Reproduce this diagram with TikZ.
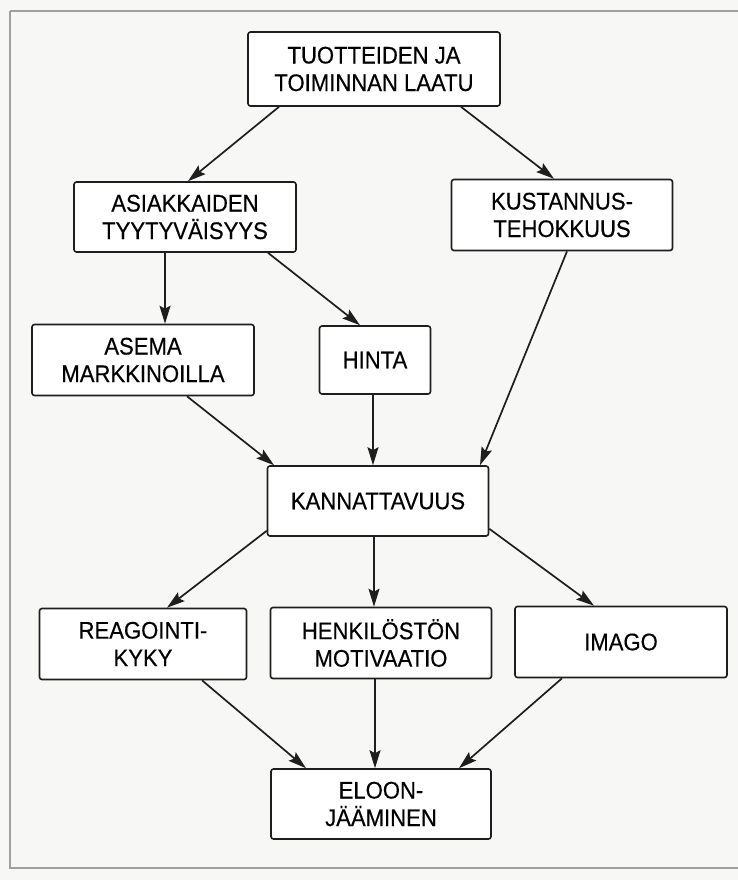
\documentclass[tikz,border=0pt]{standalone}
\usepackage{fontspec}
\setmainfont[FakeStretch=0.92,FakeBold=0.4]{Liberation Sans}
\usetikzlibrary{arrows.meta}
\definecolor{ink}{HTML}{1E1E1E}
\definecolor{paper}{HTML}{F7F7F5}
\definecolor{rule}{HTML}{A0A0A0}
\begin{document}
\begin{tikzpicture}[x=1pt,y=-1pt,
  box/.style={draw=ink, line width=1.6pt, rounded corners=2.5pt, fill=white,
    align=center, inner sep=0pt, font=\fontsize{24}{27.5}\selectfont},
  arr/.style={draw=ink, line width=1.7pt, -{Stealth[length=18pt,width=11pt,inset=3pt]}}]
  % page and frame
  \useasboundingbox (0,0) rectangle (738,880);
  \fill[paper] (0,0) rectangle (738,880);
  \draw[rule, line width=1.6pt] (10,11) -- (750,11);
  \draw[rule, line width=1.6pt] (10,11) -- (10,868) -- (750,868);

  % boxes
  \node[box, minimum width=252pt, minimum height=74pt] (top)   at (374,69)  {TUOTTEIDEN JA\\TOIMINNAN LAATU};
  \node[box, minimum width=222pt, minimum height=70pt] (asiak) at (185,217) {ASIAKKAIDEN\\TYYTYVÄISYYS};
  \node[box, minimum width=221pt, minimum height=71pt] (kust)  at (562,215) {KUSTANNUS-\\TEHOKKUUS};
  \node[box, minimum width=222pt, minimum height=71pt] (asema) at (143,360) {ASEMA\\MARKKINOILLA};
  \node[box, minimum width=111pt, minimum height=68pt] (hinta) at (375,360) {HINTA};
  \node[box, minimum width=221pt, minimum height=70pt] (kann)  at (378,501) {KANNATTAVUUS};
  \node[box, minimum width=207pt, minimum height=71pt] (reag)  at (143,644) {REAGOINTI-\\KYKY};
  \node[box, minimum width=221pt, minimum height=71pt] (henk)  at (381,643) {HENKILÖSTÖN\\MOTIVAATIO};
  \node[box, minimum width=212pt, minimum height=71pt] (imago) at (621,642) {IMAGO};
  \node[box, minimum width=220pt, minimum height=70pt] (eloon) at (381,804) {ELOON-\\JÄÄMINEN};

  % connectors
  \draw[arr] ([xshift=-95pt]top.south) -- ([xshift=3pt]asiak.north);
  \draw[arr] ([xshift=87pt]top.south) -- ([xshift=-8pt]kust.north);
  \draw[arr] ([xshift=-20pt]asiak.south) -- ([xshift=22pt]asema.north);
  \draw[arr] ([xshift=83pt]asiak.south) -- ([xshift=-15pt]hinta.north);
  \draw[arr] ([xshift=5pt]kust.south) -- ([xshift=102pt]kann.north);
  \draw[arr] ([xshift=44pt]asema.south) -- ([xshift=-104pt]kann.north);
  \draw[arr] ([xshift=-2pt]hinta.south) -- ([xshift=-5pt]kann.north);
  \draw[arr] ([yshift=6pt]kann.south west) -- ([xshift=24pt]reag.north);
  \draw[arr] ([xshift=-4pt]kann.south) -- ([xshift=-7pt]henk.north);
  \draw[arr] ([yshift=8pt]kann.south east) -- ([xshift=-27pt]imago.north);
  \draw[arr] ([xshift=59pt]reag.south) -- ([xshift=-75pt]eloon.north);
  \draw[arr] ([xshift=-6pt]henk.south) -- ([xshift=-6pt]eloon.north);
  \draw[arr] ([xshift=-59pt]imago.south) -- ([xshift=78pt]eloon.north);
\end{tikzpicture}
\end{document}
